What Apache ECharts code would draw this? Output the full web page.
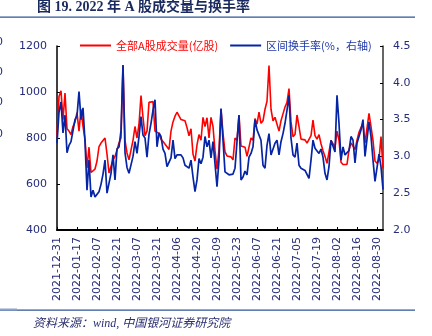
<!DOCTYPE html>
<html><head><meta charset="utf-8">
<script src="https://cdn.jsdelivr.net/npm/echarts@6/dist/echarts.min.js"></script>
<style>html,body{margin:0;padding:0;background:#fff}#c{width:432px;height:336px}</style>
</head><body><div id="c"></div>
<script>
const titleText = '图 19. 2022 年 A 股成交量与换手率';
const sourceText = '资料来源：wind, 中国银河证券研究院';
const seriesNames = ['全部A股成交量(亿股)', '区间换手率(%，右轴)'];
const startDate = '2021-12-31';
const holidays = ['2022-01-03','2022-01-31','2022-02-01','2022-02-02','2022-02-03','2022-02-04',
  '2022-04-04','2022-04-05','2022-05-02','2022-05-03','2022-05-04','2022-06-03'];
const volume = [806,980,1005,880,995,840,830,815,850,870,
  910,830,925,850,795,670,760,650,648,665,
  700,762,778,770,800,730,648,650,705,720,
  748,778,800,1115,790,735,705,710,790,850,
  800,860,985,890,810,830,955,958,958,830,
  830,820,795,785,778,762,750,830,870,895,
  912,905,880,885,875,845,810,840,730,700,
  770,815,790,890,850,888,800,890,850,745,
  665,750,925,820,740,722,730,718,705,800,
  790,900,765,770,760,720,760,800,790,885,
  860,912,864,875,925,960,1115,925,875,890,
  885,830,875,905,935,955,1015,870,806,815,
  900,850,795,790,792,778,782,810,878,810,
  795,815,775,745,720,690,688,790,792,760,
  830,790,695,685,683,685,748,778,765,750,
  790,825,845,864,778,775,907,850,790,700,
  690,705,806,668];
const turnover = [3.18,3.6,3.74,3.32,3.56,3.05,3.15,3.2,3.35,3.5,
  3.55,3.88,3.5,3.66,3.2,2.54,2.95,2.45,2.54,2.45,
  2.45,2.52,2.62,2.76,2.95,2.5,2.5,2.77,3.02,2.68,
  3.1,3.13,3.35,4.24,3.05,2.85,2.77,2.78,3.0,3.2,
  3.04,3.27,3.54,3.29,3.25,2.99,3.3,3.45,3.63,3.77,
  3.13,3.32,3.27,3.1,3.04,2.86,2.88,2.98,3.22,2.97,
  3.02,3.04,3.02,2.98,2.88,2.86,2.84,2.95,2.72,2.52,
  2.68,2.97,2.9,2.99,3.27,3.13,3.22,2.98,3.2,2.9,
  2.59,2.95,3.65,3.22,2.79,2.78,2.75,2.75,2.76,2.84,
  2.82,3.56,2.68,2.72,2.8,2.75,2.99,3.04,3.13,3.5,
  3.36,3.36,3.22,2.88,2.84,3.15,3.31,3.02,3.02,3.18,
  3.22,3.02,3.2,3.31,3.45,3.63,3.83,3.25,3.02,2.99,
  3.18,2.88,2.84,2.86,2.81,2.8,2.7,2.95,3.22,3.11,
  3.13,3.04,3.1,2.99,2.77,2.68,2.86,3.22,3.2,3.06,
  3.83,3.45,2.95,3.13,3.02,3.04,3.08,3.27,3.22,2.91,
  3.18,3.27,3.36,3.5,3.0,3.0,3.47,3.27,2.95,2.66,
  2.66,3.03,2.86,2.55];

// trading-day categories
const dates = [];
{
  let d = new Date(startDate + 'T00:00:00Z');
  while (dates.length < volume.length) {
    const s = d.toISOString().slice(0,10);
    const wd = d.getUTCDay();
    if (wd !== 0 && wd !== 6 && holidays.indexOf(s) < 0) dates.push(s);
    d = new Date(d.getTime() + 86400000);
  }
}

const navy = '#262C7A';
const chart = echarts.init(document.getElementById('c'), null, {renderer:'canvas'});
chart.setOption({
  animation: false,
  backgroundColor: '#fff',
  textStyle: {fontFamily: 'DejaVu Sans, Noto Sans CJK SC'},
  grid: {left: 57, right: 49, top: 46, bottom: 106, containLabel: false},
  legend: {
    left: 80, top: 40, padding: 0, itemWidth: 31, itemHeight: 2, itemGap: 12, icon: 'rect',
    textStyle: {fontSize: 11, fontFamily: 'Noto Sans CJK SC'},
    data: [
      {name: seriesNames[0], textStyle: {color: '#FF0000'}},
      {name: seriesNames[1], textStyle: {color: '#1F3AA8'}}
    ]
  },
  xAxis: {
    type: 'category', data: dates, boundaryGap: false,
    axisLine: {lineStyle: {color: '#000', width: 2}},
    axisTick: {inside: true, length: 3, interval: 9, lineStyle: {color: '#000'}},
    axisLabel: {interval: 9, rotate: 90, margin: 7, color: navy, fontSize: 11, fontFamily: 'DejaVu Sans'}
  },
  yAxis: [
    {type: 'value', min: 400, max: 1200, interval: 200,
     axisLine: {show: true, lineStyle: {color: '#000', width: 1.5}},
     axisTick: {show: true, inside: true, length: 3, lineStyle: {color: '#000'}},
     axisLabel: {color: navy, fontSize: 11, margin: 10, fontFamily: 'DejaVu Sans',
       formatter: v => String(v)},
     splitLine: {show: false}},
    {type: 'value', min: 2.0, max: 4.5, interval: 0.5, position: 'right',
     axisLine: {show: true, lineStyle: {color: '#333', width: 1.5}},
     axisTick: {show: true, inside: true, length: 3, lineStyle: {color: '#000'}},
     axisLabel: {color: navy, fontSize: 11, margin: 10, fontFamily: 'DejaVu Sans',
       formatter: v => v.toFixed(1)},
     splitLine: {show: false}}
  ],
  series: [
    {name: seriesNames[0], type: 'line', data: volume, yAxisIndex: 0, symbol: 'none',
     lineStyle: {color: '#FF0000', width: 1.6}, itemStyle: {color: '#FF0000'}},
    {name: seriesNames[1], type: 'line', data: turnover, yAxisIndex: 1, symbol: 'none',
     lineStyle: {color: '#0525A5', width: 1.7}, itemStyle: {color: '#0525A5'}}
  ],
  graphic: [
    {type: 'text', left: 37, top: 0, style: {text: titleText, fill: '#1B2A5E',
      font: 'bold 14px "Liberation Serif", "Noto Sans CJK SC"'}},
    {type: 'rect', shape: {x: 0, y: 16.5, width: 415, height: 1.2}, style: {fill: '#2F5597'}},
    {type: 'rect', shape: {x: 0, y: 309.5, width: 415, height: 1.2}, style: {fill: '#2F5597'}},
    {type: 'rect', shape: {x: 0, y: 308.5, width: 17, height: 2}, style: {fill: '#8FA3C8'}},
    {type: 'text', left: 33, top: 318, style: {text: sourceText, fill: '#2B3070',
      font: 'italic 12px "Liberation Serif", "Noto Sans CJK SC"'}},
    {type: 'text', x: -4, y: 37, style: {text: '0', fill: navy, font: '11px "DejaVu Sans"'}},
    {type: 'text', x: -4, y: 67, style: {text: '0', fill: navy, font: '11px "DejaVu Sans"'}},
    {type: 'text', x: -4, y: 97, style: {text: '0', fill: navy, font: '11px "DejaVu Sans"'}},
    {type: 'text', x: -4, y: 129, style: {text: '0', fill: navy, font: '11px "DejaVu Sans"'}}
  ]
});
</script></body></html>
